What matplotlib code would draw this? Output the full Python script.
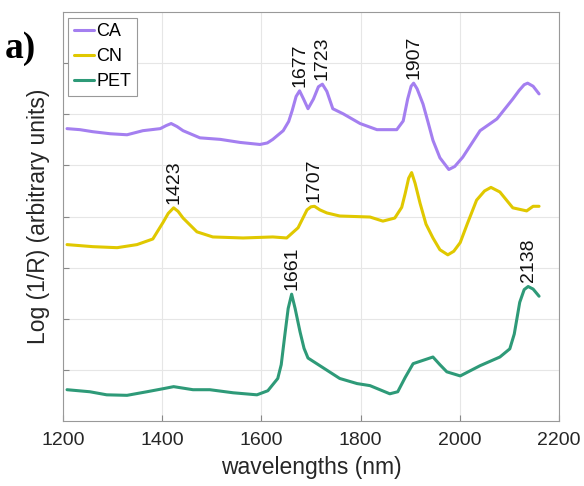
import numpy as np
import matplotlib
matplotlib.use("Agg")
import matplotlib.pyplot as plt

plt.rcParams['font.family'] = ['Liberation Sans', 'DejaVu Sans']

# wavelengths (nm) and log(1/R) values (arbitrary units)
ca_x = [1208, 1234, 1260, 1295, 1329, 1361, 1396, 1408, 1418, 1430, 1442, 1476, 1517, 1557,
        1597, 1612, 1623, 1644, 1655, 1662, 1670, 1677, 1685, 1694, 1705, 1715, 1723, 1732,
        1744, 1765, 1799, 1833, 1873, 1886, 1895, 1902, 1907, 1914, 1926, 1936, 1946, 1960,
        1978, 1990, 2006, 2041, 2075, 2107, 2120, 2130, 2137, 2148, 2160]
ca_y = [5.72, 5.70, 5.66, 5.62, 5.60, 5.68, 5.72, 5.78, 5.82, 5.76, 5.68, 5.54, 5.51, 5.45,
        5.41, 5.44, 5.51, 5.68, 5.86, 6.07, 6.35, 6.46, 6.30, 6.11, 6.30, 6.54, 6.59, 6.45,
        6.11, 6.01, 5.82, 5.70, 5.70, 5.87, 6.30, 6.55, 6.61, 6.50, 6.20, 5.85, 5.49, 5.15,
        4.92, 4.98, 5.16, 5.68, 5.91, 6.30, 6.47, 6.58, 6.61, 6.55, 6.40]

cn_x = [1208, 1260, 1309, 1349, 1381, 1402, 1412, 1423, 1432, 1442, 1470, 1502, 1563, 1623,
        1651, 1674, 1692, 1700, 1707, 1718, 1732, 1758, 1819, 1845, 1869, 1883, 1890, 1897,
        1903, 1910, 1920, 1932, 1946, 1960, 1976, 1988, 2001, 2015, 2034, 2050, 2063, 2081,
        2107, 2135, 2148, 2160]
cn_y = [3.45, 3.41, 3.39, 3.45, 3.56, 3.89, 4.06, 4.17, 4.10, 3.97, 3.70, 3.60, 3.58, 3.60,
        3.58, 3.78, 4.13, 4.19, 4.20, 4.13, 4.07, 4.01, 3.99, 3.91, 3.97, 4.18, 4.45, 4.75,
        4.86, 4.65, 4.26, 3.85, 3.58, 3.35, 3.25, 3.32, 3.49, 3.85, 4.32, 4.50, 4.57, 4.48,
        4.17, 4.11, 4.20, 4.20]

pet_x = [1208, 1254, 1288, 1329, 1369, 1402, 1423, 1462, 1496, 1543, 1591, 1613, 1633, 1640,
         1647, 1654, 1661, 1668, 1678, 1686, 1694, 1718, 1758, 1793, 1819, 1859, 1875, 1890,
         1906, 1946, 1960, 1974, 2001, 2041, 2081, 2101, 2110, 2121, 2130, 2138, 2148, 2160]
pet_y = [0.61, 0.57, 0.51, 0.50, 0.57, 0.63, 0.67, 0.61, 0.61, 0.55, 0.51, 0.59, 0.83, 1.10,
         1.66, 2.20, 2.48, 2.20, 1.74, 1.42, 1.23, 1.08, 0.83, 0.73, 0.69, 0.53, 0.57, 0.85,
         1.12, 1.25, 1.10, 0.96, 0.88, 1.08, 1.25, 1.41, 1.70, 2.32, 2.57, 2.63, 2.58, 2.44]

# peak labels per series
ca_peaks = [1677, 1723, 1907]
cn_peaks = [1423, 1707]
pet_peaks = [1661, 2138]

colors = {'CA': '#a47ff0', 'CN': '#e0c800', 'PET': '#2e9a78'}

fig = plt.figure(figsize=(5.84, 4.86), dpi=100)
ax = fig.add_axes([0.108, 0.134, 0.849, 0.841])

series = [('CA', ca_x, ca_y, ca_peaks), ('CN', cn_x, cn_y, cn_peaks), ('PET', pet_x, pet_y, pet_peaks)]
for name, xs, ys, peaks in series:
    ax.plot(xs, ys, color=colors[name], lw=2.2, label=name,
            solid_joinstyle='round', solid_capstyle='round')
    for p in peaks:
        ax.annotate(str(p), xy=(p, np.interp(p, xs, ys)), xytext=(0, 3),
                    textcoords='offset points', rotation=90, ha='center', va='bottom',
                    fontsize=14, color='#111111')

ax.set_xlim(1200, 2200)
ax.set_ylim(0, 8)
ax.set_xticks([1200, 1400, 1600, 1800, 2000, 2200])
ax.set_yticks([1, 2, 3, 4, 5, 6, 7])
ax.set_yticklabels([])
ax.tick_params(direction='in', length=4, color='#888888', labelsize=14, labelcolor='#262626')
ax.tick_params(axis='x', pad=8)
ax.grid(True, color='#e6e6e6', lw=0.8)
ax.set_axisbelow(True)
for s in ax.spines.values():
    s.set_color('#999999')

ax.set_xlabel('wavelengths (nm)', fontsize=16.5, color='#262626', labelpad=5)
ax.set_ylabel('Log (1/R) (arbitrary units)', fontsize=16.5, color='#262626', labelpad=6)

leg = ax.legend(loc='upper left', fontsize=13, handlelength=1.1, handletextpad=0.15,
                borderpad=0.3, labelspacing=0.45, borderaxespad=0.3, fancybox=False,
                edgecolor='#999999', framealpha=1)
leg.get_frame().set_linewidth(0.8)

fig.text(0.008, 0.88, 'a)', fontsize=27, fontweight='bold', family='Liberation Serif')

fig.savefig('out.png', dpi=100)
